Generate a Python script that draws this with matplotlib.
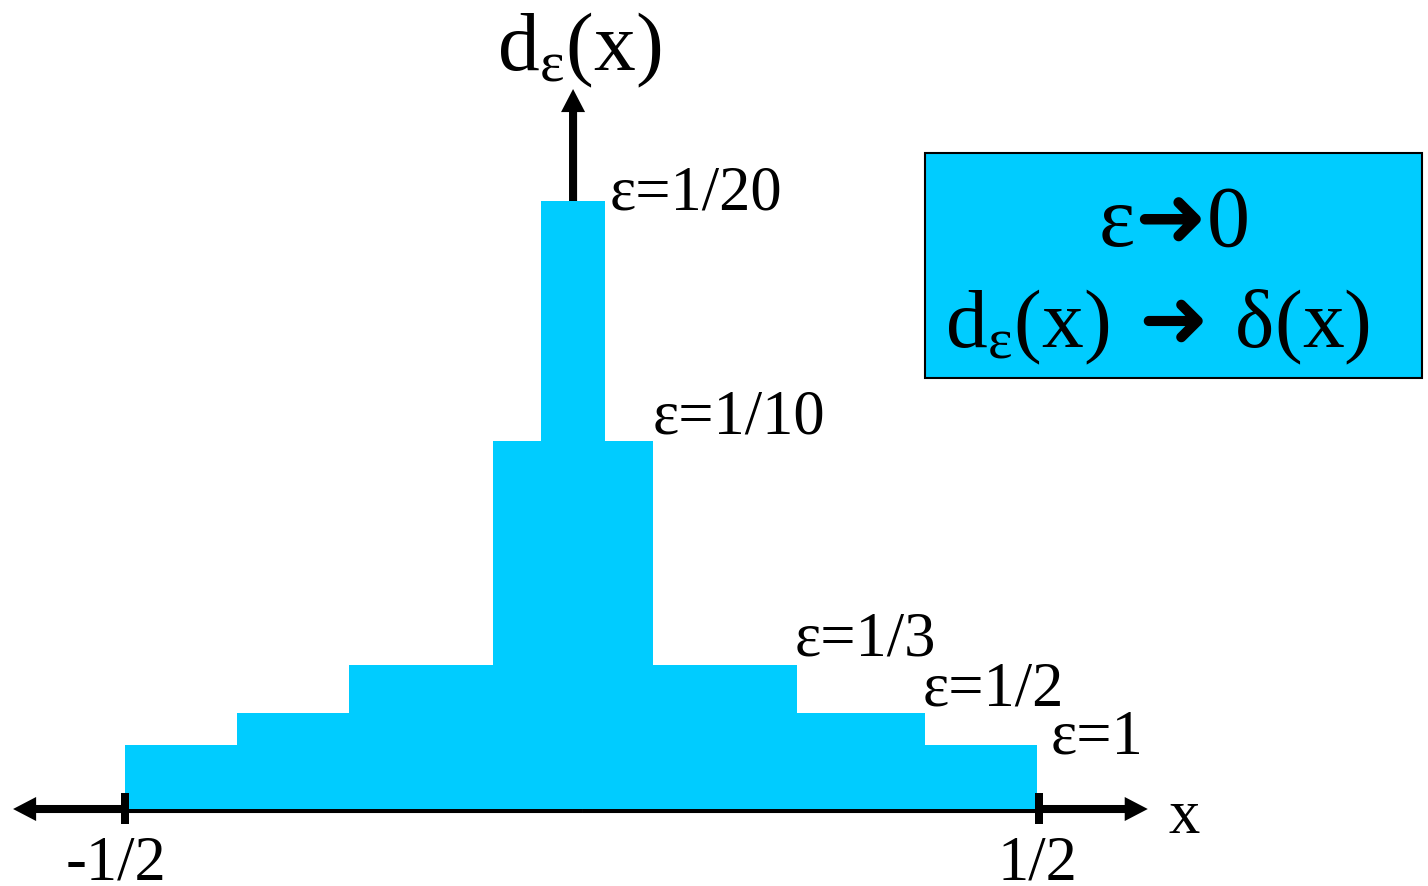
import numpy as np
import matplotlib
matplotlib.use('Agg')
import matplotlib.pyplot as plt
from matplotlib.patches import Rectangle

plt.rcParams['font.family'] = ['Liberation Serif', 'DejaVu Sans']
plt.rcParams['mathtext.fontset'] = 'custom'
plt.rcParams['mathtext.rm'] = 'Liberation Serif'
plt.rcParams['mathtext.sf'] = 'DejaVu Sans'
plt.rcParams['mathtext.default'] = 'rm'

#%% data (x in units of the -1/2..1/2 ticks, y in units of the eps=1 height)
eps_labels = ['ε=1', 'ε=1/2', 'ε=1/3', 'ε=1/10', 'ε=1/20']
bar_left = [-0.500, -0.377, -0.255, -0.097, -0.045]
bar_right = [0.498, 0.375, 0.235, 0.078, 0.025]
bar_height = [1.0, 1.5, 2.25, 5.75, 9.5]
tick_pos = [-0.5, 0.5]
tick_labels = ['-1/2', '1/2']

#%% layout
cyan = '#00CCFF'
label_offsets = [(13, -8), (-2, 8), (-2, 10), (-1, 8), (5, -8)]  # pixels from bar top-right corner
ticklabel_offsets = [-9, -2]

fig = plt.figure(figsize=(14.28, 8.86), dpi=100)
ax = fig.add_axes([0, 0, 1, 1])
ax.set_xlim(-0.6368, 0.9256)
ax.set_ylim(-1.203, 12.641)
ax.axis('off')

# axes arrows
arrow_kw = dict(arrowstyle='simple,head_length=1.66,head_width=1.73,tail_width=0.58',
                mutation_scale=10, fc='black', ec='none', lw=0, shrinkA=0, shrinkB=0)
ax.annotate('', xy=(-0.6225, 0), xytext=(0, 0), arrowprops=arrow_kw, zorder=1)
ax.annotate('', xy=(0.619, 0), xytext=(0, 0), arrowprops=arrow_kw, zorder=1)
ax.annotate('', xy=(-0.0098, 11.25), xytext=(-0.0098, bar_height[-1]), arrowprops=arrow_kw, zorder=1)

# the nested boxes
widths = np.subtract(bar_right, bar_left)
ax.bar(bar_left, bar_height, width=widths, align='edge', color=cyan, lw=0, zorder=2)

ax.vlines(tick_pos, -0.234, 0.25, lw=5.76, color='black', zorder=3)

for lab, l, r, h, off in zip(eps_labels, bar_left, bar_right, bar_height, label_offsets):
    ax.annotate(lab, xy=(r, h), xytext=off, textcoords='offset pixels',
                fontsize=45, ha='left', va='baseline')

for t, lab, dx in zip(tick_pos, tick_labels, ticklabel_offsets):
    ax.annotate(lab, xy=(t, -1.109), xytext=(dx, 0), textcoords='offset pixels',
                fontsize=45, ha='center', va='baseline')

ax.text(0.6586, -0.375, 'x', fontsize=45, ha='center', va='baseline')
ax.text(-0.0033, 11.547, r'$d_{ε}(x)$', fontsize=60, ha='center', va='baseline')

# the limit box
ax.add_patch(Rectangle((0.3753, 6.734), 0.5437, 3.516, fc=cyan, ec='black', lw=1.5, zorder=2))
ax.text(0.6466, 8.797, r'$ε\mathsf{➜}0$', fontsize=62, ha='center', va='baseline', zorder=4)
ax.text(0.6291, 7.219, r'$d_{ε}(x)\ \mathsf{➜}\ δ(x)$', fontsize=60, ha='center', va='baseline', zorder=4)

fig.savefig('out.png', dpi=100)
